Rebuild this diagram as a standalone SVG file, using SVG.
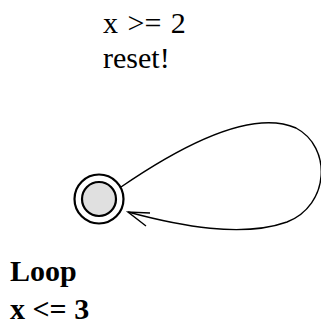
<svg xmlns="http://www.w3.org/2000/svg" width="321" height="332" viewBox="0 0 321 332">
<style>
.edge{fill:none;stroke:#000;stroke-width:1.4}
.lbl{font-size:30px;fill:#000}
.b{font-weight:bold}
</style>
<rect width="321" height="332" fill="#fff"/>
<g id="connectors">
<path class="edge" d="M121,187 C175,150 250,108 296,128 C332,147 330,205 287,222 C242,238 180,226 128,212"/>
<path class="edge" d="M146,226 L128,212 L150,213"/>
</g>
<g id="label-edge" font-family="Liberation Serif, serif">
<text class="lbl" x="103" y="33" word-spacing="2">x &gt;= 2</text>
<text class="lbl" x="103" y="68">reset!</text>
</g>
<g id="node-loop">
<circle cx="99" cy="199" r="24.5" fill="#fff" stroke="#000" stroke-width="2.2"/>
<circle cx="99" cy="199" r="17" fill="#e0e0e0" stroke="#000" stroke-width="2.2"/>
<g font-family="Liberation Serif, serif">
<text class="lbl b" x="10" y="281">Loop</text>
<text class="lbl b" x="10" y="319">x &lt;= 3</text>
</g>
</g>
</svg>
